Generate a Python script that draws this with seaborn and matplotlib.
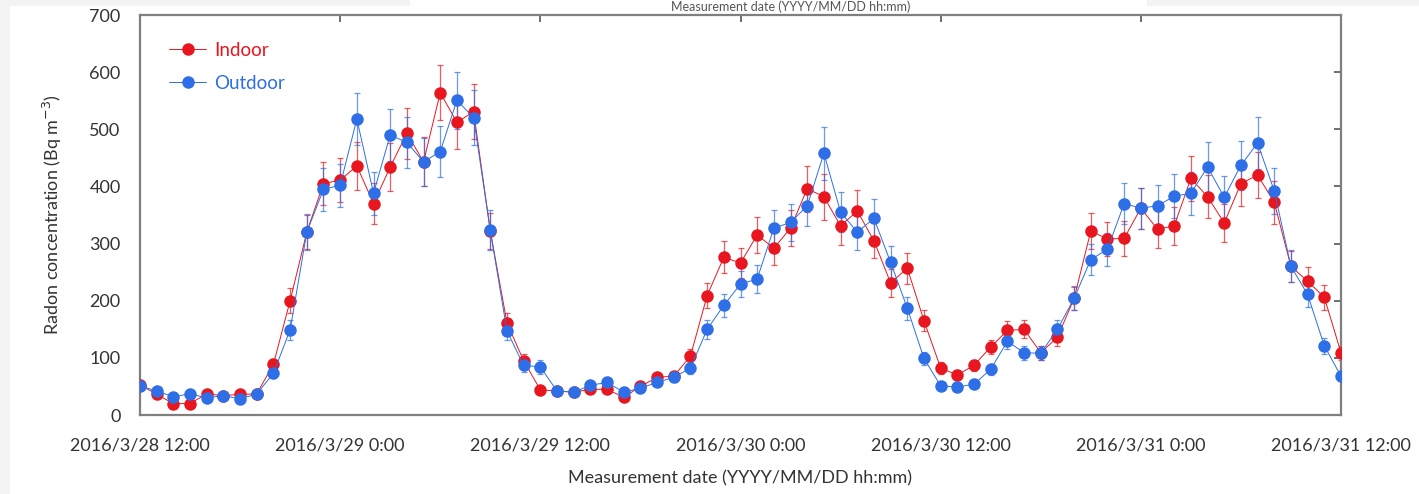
import numpy as np
import pandas as pd
import matplotlib
matplotlib.use("Agg")
import matplotlib.pyplot as plt
import matplotlib.dates as mdates
from matplotlib.ticker import FuncFormatter
from matplotlib.patches import Rectangle
import seaborn as sns

# hourly measurements, 2016/3/28 12:00 .. 2016/3/31 12:00
start = "2016-03-28 12:00"
n_hours = 73

indoor = [53, 36, 20, 20, 37, 34, 36, 37, 89, 200, 320, 405, 411, 436, 370, 434, 493, 443, 564, 512,
          531, 322, 161, 95, 44, 42, 40, 45, 45, 31, 50, 66, 68, 103, 209, 276, 266, 315, 292, 327,
          396, 382, 331, 357, 305, 231, 257, 165, 82, 70, 87, 119, 148, 150, 109, 136, 204, 322, 308, 309,
          362, 325, 331, 414, 382, 336, 405, 420, 372, 260, 234, 206, 109]
indoor_err = [6, 5, 4, 4, 5, 5, 5, 5, 9, 22, 30, 38, 38, 42, 36, 42, 45, 43, 48, 46,
              48, 32, 18, 12, 6, 6, 5, 6, 6, 5, 6, 8, 8, 12, 22, 28, 27, 32, 29, 32,
              40, 40, 33, 36, 31, 25, 27, 18, 10, 9, 10, 13, 16, 16, 12, 15, 20, 32, 30, 31,
              36, 32, 33, 40, 38, 33, 40, 41, 37, 27, 25, 22, 12]
outdoor = [51, 42, 32, 37, 30, 34, 28, 37, 73, 149, 320, 395, 402, 518, 388, 490, 477, 443, 461, 551,
           520, 323, 147, 87, 84, 42, 40, 52, 57, 40, 47, 57, 66, 82, 150, 192, 229, 238, 327, 337,
           366, 458, 355, 320, 344, 267, 187, 99, 51, 49, 54, 80, 129, 109, 108, 150, 204, 272, 290, 370,
           362, 366, 383, 388, 434, 381, 437, 476, 392, 260, 211, 121, 68]
outdoor_err = [6, 5, 4, 5, 4, 5, 4, 5, 9, 18, 32, 38, 38, 45, 38, 45, 44, 42, 44, 50,
               48, 35, 16, 11, 12, 5, 5, 6, 7, 5, 6, 7, 8, 10, 17, 20, 23, 24, 32, 33,
               36, 46, 35, 32, 34, 28, 20, 12, 7, 7, 7, 10, 14, 12, 12, 16, 21, 27, 29, 36,
               36, 36, 38, 38, 43, 38, 43, 45, 40, 28, 22, 14, 9]

times = pd.date_range(start, periods=n_hours, freq="h")
df = pd.DataFrame({"time": list(times) * 2,
                   "value": indoor + outdoor,
                   "err": indoor_err + outdoor_err,
                   "site": ["Indoor"] * n_hours + ["Outdoor"] * n_hours})

red = "#e8161e"
blue = "#2e6ee6"
palette = {"Indoor": red, "Outdoor": blue}

sns.set_style("white")
plt.rcParams["font.family"] = ["Lato", "DejaVu Sans"]

fig = plt.figure(figsize=(14.19, 4.94), dpi=100, facecolor="#f3f3f3")
fig.patches.append(Rectangle((10 / 1419, 0), 1 - 10 / 1419, 1 - 6 / 494,
                             transform=fig.transFigure, facecolor="white", edgecolor="none", zorder=-1))
fig.patches.append(Rectangle((410 / 1419, 1 - 6 / 494), 737 / 1419, 6 / 494,
                             transform=fig.transFigure, facecolor="white", edgecolor="none", zorder=-1))
ax = fig.add_axes([140 / 1419, 79 / 494, 1201 / 1419, 400 / 494])

for site, col in palette.items():
    d = df[df.site == site]
    ax.errorbar(d.time, d.value, yerr=d.err, fmt="none", ecolor=col, elinewidth=0.9,
                capsize=2.5, capthick=0.9, alpha=0.7, zorder=2)

sns.lineplot(data=df, x="time", y="value", hue="site", palette=palette, marker="o",
             markersize=9, markeredgewidth=0, linewidth=0.7, ax=ax, zorder=3, legend=True)

ax.set_xlim(times[0], times[-1])
ax.set_ylim(0, 700)
ax.set_yticks(range(0, 701, 100))
ax.xaxis.set_major_locator(mdates.HourLocator(byhour=[0, 12]))


def fmt_date(x, pos):
    d = mdates.num2date(x)
    return f"{d.year}/{d.month}/{d.day} {d.hour}:{d.minute:02d}"


ax.xaxis.set_major_formatter(FuncFormatter(fmt_date))
ax.tick_params(axis="both", direction="in", length=5, width=1.2, color="#555555",
               top=True, right=True, labelsize=13, labelcolor="#333333")
ax.tick_params(axis="x", pad=16)
ax.tick_params(axis="y", pad=14)
for s in ax.spines.values():
    s.set_color("#7f7f7f")
    s.set_linewidth(1.6)

ax.set_xlabel("Measurement date (YYYY/MM/DD hh:mm)", fontsize=13, color="#333333", labelpad=12)
ax.set_ylabel("Radon concentration (Bq m$^{-3}$)", fontsize=13, color="#333333", labelpad=18)

leg = ax.legend(loc="upper left", bbox_to_anchor=(0.01, 0.975), frameon=False, fontsize=13.5,
                handlelength=2.0, handletextpad=0.4, labelspacing=0.85, title=None)
for txt, col in zip(leg.get_texts(), [red, blue]):
    txt.set_color(col)

fig.text(0.557, 0.999, "Measurement date (YYYY/MM/DD hh:mm)", ha="center", va="top",
         fontsize=9, color="#555555")

fig.savefig("out.png", dpi=100, facecolor=fig.get_facecolor())
